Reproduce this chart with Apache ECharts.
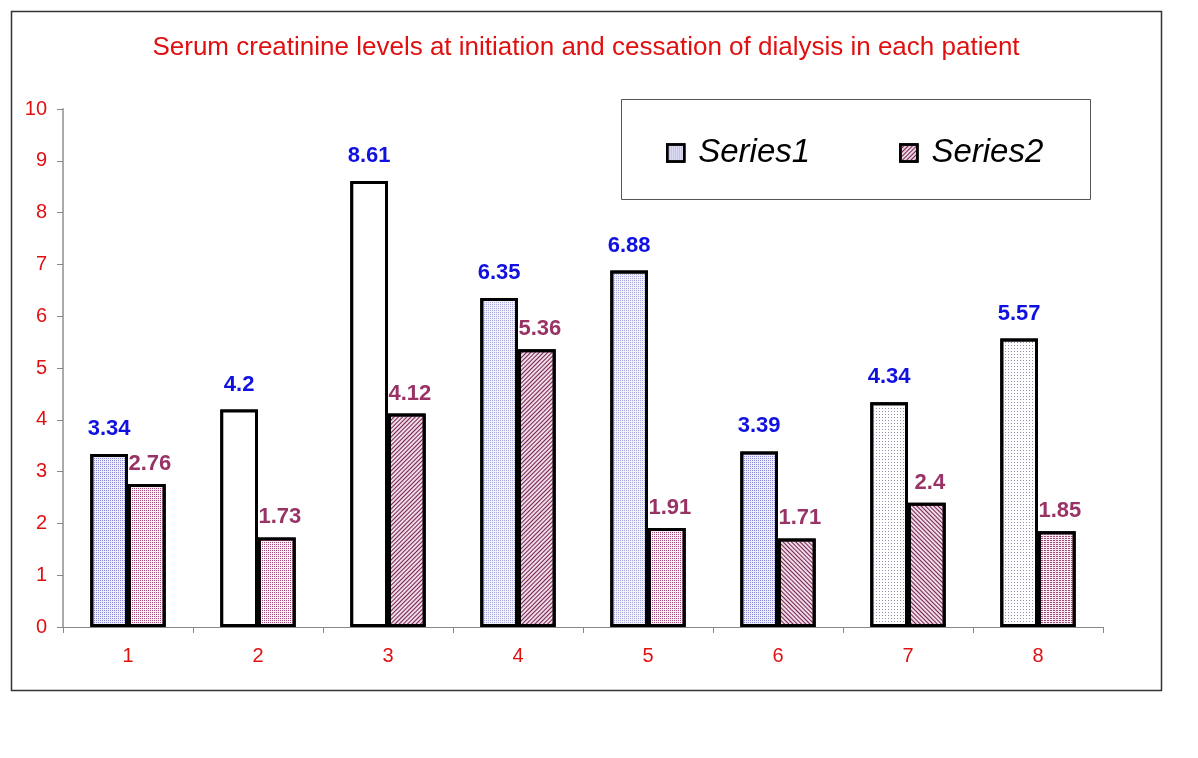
<!DOCTYPE html>
<html>
<head>
<meta charset="utf-8">
<script src="https://cdn.jsdelivr.net/npm/echarts@6/dist/echarts.min.js"></script>
<style>
html,body{margin:0;padding:0;background:#fff;}
#chart{width:1198px;height:758px;}
</style>
</head>
<body>
<div id="chart"></div>
<script>
var categories = ['1','2','3','4','5','6','7','8'];
var series1Values = [3.34, 4.2, 8.61, 6.35, 6.88, 3.39, 4.34, 5.57];
var series2Values = [2.76, 1.73, 4.12, 5.36, 1.91, 1.71, 2.4, 1.85];
var yTicks = [0,1,2,3,4,5,6,7,8,9,10];
var titleText = 'Serum creatinine levels at initiation and cessation of dialysis in each patient';

// fill styles per bar
var gridBlue = {color:'#eeeefa', decal:{symbol:'rect', symbolSize:1, dashArrayX:[1,1], dashArrayY:[1,1], color:'#8a8ad8'}};
var fineBlue = {color:'#f2f2fb', decal:{symbol:'rect', symbolSize:1, dashArrayX:[1,1], dashArrayY:[1,1], color:'#a8a8dc'}};
var sparseGray = {color:'#ffffff', decal:{symbol:'rect', symbolSize:1, dashArrayX:[1,2], dashArrayY:[1,2], color:'#9090b0'}};
var plain = {color:'#ffffff', decal:{symbol:'rect', symbolSize:1, dashArrayX:[1,0], dashArrayY:[1,0], color:'#ffffff'}};
var pinkDots = {color:'#faf0f5', decal:{symbol:'rect', symbolSize:1, dashArrayX:[1,1], dashArrayY:[1,1], color:'#a04878'}};
var hatchR = {color:'#ecdce6', decal:{symbol:'rect', symbolSize:1, dashArrayX:[1,0], dashArrayY:[1,1.5], rotation:Math.PI/4, color:'#7a2050'}};
var hatchL = {color:'#ecdce6', decal:{symbol:'rect', symbolSize:1, dashArrayX:[1,0], dashArrayY:[1,1.5], rotation:-Math.PI/4, color:'#7a2050'}};
var pinkDash = {color:'#f6eaf0', decal:{symbol:'rect', symbolSize:1, dashArrayX:[2,1], dashArrayY:[1,1], color:'#a04878'}};

var s1Fills = [gridBlue, plain, plain, fineBlue, fineBlue, gridBlue, sparseGray, sparseGray];
var s2Fills = [pinkDots, pinkDots, hatchL, hatchL, pinkDots, hatchR, hatchR, pinkDash];

function build(values, fills){
  return values.map(function(v,i){
    var f = fills[i];
    var st = {color:f.color, borderColor:'#000', borderWidth:3, decal:f.decal};
    return {value:v, itemStyle:st};
  });
}

var chart = echarts.init(document.getElementById('chart'), null, {renderer:'canvas'});
var font = '"Liberation Sans", Arial, sans-serif';
chart.setOption({
  animation:false,
  backgroundColor:'#ffffff',
  title:{
    text:titleText, left:586, textAlign:'center', top:35, padding:0,
    textStyle:{color:'#e01010', fontSize:26, fontWeight:'normal', fontFamily:font}
  },
  legend:{
    left:666, top:135, padding:0,
    itemWidth:17, itemHeight:17, itemGap:89,
    icon:'rect',
    itemStyle:{borderColor:'#000', borderWidth:2.5},
    textStyle:{fontSize:33, fontStyle:'italic', color:'#000', fontFamily:font, padding:[0,0,0,9], lineHeight:36},
    data:['Series1','Series2']
  },
  graphic:[
    {type:'rect', shape:{x:11.5, y:11.5, width:1150, height:679}, style:{fill:'none', stroke:'#333', lineWidth:1.5}, z:-1},
    {type:'rect', shape:{x:621.5, y:99.5, width:469, height:100}, style:{fill:'#fff', stroke:'#555', lineWidth:1}, z:-1}
  ],
  grid:{left:63, right:95, top:109, bottom:131},
  xAxis:{
    type:'category', data:categories,
    axisLine:{lineStyle:{color:'#888', width:1}},
    axisTick:{show:true, length:6, alignWithLabel:false, lineStyle:{color:'#888'}},
    axisLabel:{color:'#e01010', fontSize:20, fontFamily:font, margin:19}
  },
  yAxis:{
    type:'value', min:yTicks[0], max:yTicks[yTicks.length-1], interval:1,
    axisLine:{show:true, lineStyle:{color:'#aaa', width:2}},
    axisTick:{show:true, length:6, lineStyle:{color:'#888'}},
    splitLine:{show:false},
    axisLabel:{color:'#e01010', fontSize:20, fontFamily:font, margin:16}
  },
  series:[
    {
      name:'Series1', type:'bar', data:build(series1Values, s1Fills),
      barGap:'0%', barCategoryGap:'42%',
      itemStyle:{color:'#e6e6f8', borderColor:'#000', borderWidth:3,
        decal:{symbol:'rect', symbolSize:1, dashArrayX:[1,1], dashArrayY:[1,1], color:'#8a8ad8'}},
      label:{show:true, position:'top', distance:14, color:'#1010e0', fontSize:22, fontWeight:'bold', fontFamily:font}
    },
    {
      name:'Series2', type:'bar', data:build(series2Values, s2Fills),
      itemStyle:{color:'#e8d4e0', borderColor:'#000', borderWidth:3,
        decal:{symbol:'rect', symbolSize:1, dashArrayX:[1,0], dashArrayY:[1,1.5], rotation:-Math.PI/4, color:'#7a2050'}},
      label:{show:true, position:'top', distance:9, offset:[3,0], color:'#993366', fontSize:22, fontWeight:'bold', fontFamily:font}
    }
  ]
});
</script>
</body>
</html>
